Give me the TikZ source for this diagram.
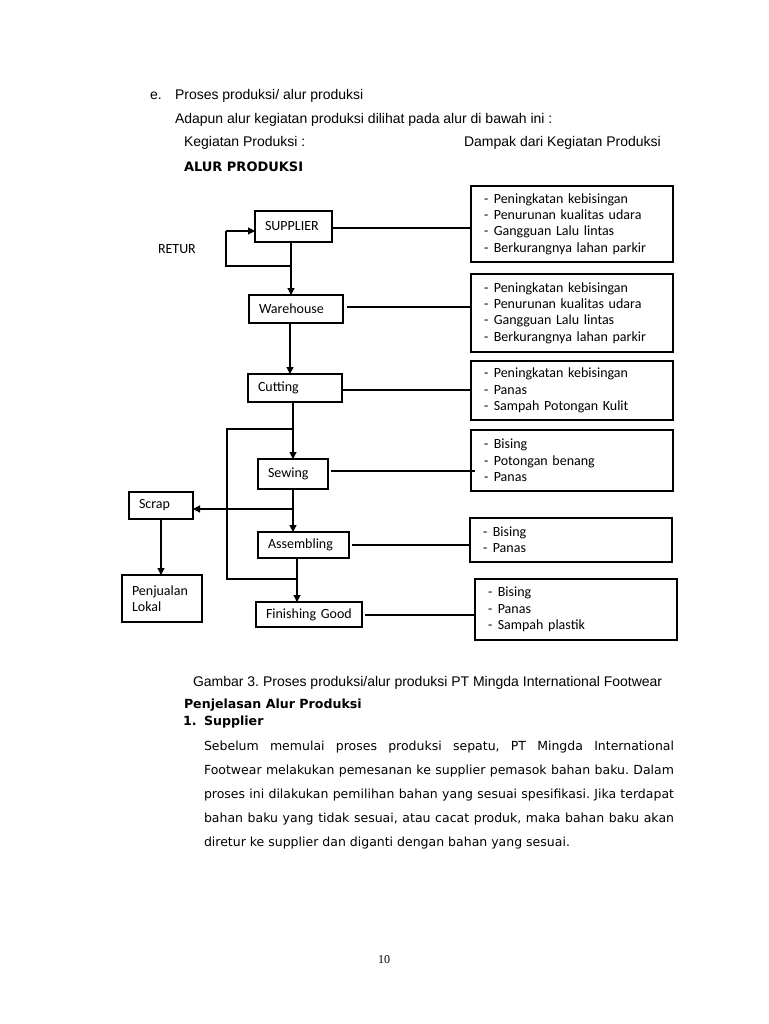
\documentclass[tikz,border=0pt]{standalone}
\usepackage{fontspec}
\setmainfont{Liberation Sans}
\newfontfamily\calibri{Carlito}
\newfontfamily\verd{DejaVu Sans}
\newfontfamily\tnr{Liberation Serif}
\usetikzlibrary{arrows.meta}
\newcommand\dd{-\hspace{5.5pt}}
\frenchspacing
\begin{document}
\begin{tikzpicture}[x=1pt,y=-1pt,
  every node/.style={inner sep=0pt, outer sep=0pt},
  txt/.style={anchor=base west, font=\fontsize{14}{16}\selectfont},
  body/.style={anchor=base west, font=\verd\fontsize{12.5}{24}\selectfont},
  bodyb/.style={anchor=base west, font=\verd\bfseries\fontsize{12.6}{24}\selectfont},
  cal/.style={anchor=base west, font=\calibri\fontsize{14}{16}\selectfont},
  flow/.style={draw, line width=1.2pt, anchor=north west, align=left, inner xsep=10pt, inner ysep=0pt, font=\calibri\fontsize{14}{16}\selectfont},
  dampak/.style={draw, line width=1.3pt, anchor=north west, align=left, text width=176pt, inner xsep=13pt, inner ysep=0pt, font=\calibri\fontsize{14}{16.4}\selectfont},
  conn/.style={line width=1.2pt},
  arr/.style={line width=1.2pt, -{Triangle[length=7pt,width=7pt]}},
]
\fill[white] (0,0) rectangle (768,1024);
\useasboundingbox (0,0) rectangle (768,1024);

% header texts
\node[txt] (e) at (150,99.5) {e.};
\node[txt] (t1) at (175,99.5) {Proses produksi/ alur produksi};
\node[txt] (t2) at (175,123.5) {Adapun alur kegiatan produksi dilihat pada alur di bawah ini :};
\node[txt] (t3) at (184,146.5) {Kegiatan Produksi :};
\node[txt] (t4) at (464,146.5) {Dampak dari Kegiatan Produksi};
\node[bodyb, font=\verd\bfseries\fontsize{13}{24}\selectfont] (t5) at (184,171.5) {ALUR PRODUKSI};

% flow boxes
\node[flow, minimum width=77pt, minimum height=31pt, text width=57pt] (sup) at (255,211) {SUPPLIER};
\node[flow, minimum width=94pt, minimum height=28pt, text width=74pt] (wh) at (249,295) {Warehouse};
\node[flow, minimum width=94pt, minimum height=28pt, text width=74pt] (cut) at (248,374) {Cutting};
\node[flow, minimum width=70pt, minimum height=30pt, text width=50pt] (sew) at (258,459) {Sewing};
\node[flow, minimum width=64pt, minimum height=27pt, text width=44pt] (scrap) at (129,492) {Scrap};
\node[flow, minimum width=91pt, minimum height=26pt, text width=71pt] (asm) at (258,532) {Assembling};
\node[flow, minimum width=106pt, minimum height=25pt, text width=86pt] (fin) at (256,602) {Finishing Good};
\node[flow, minimum width=80pt, minimum height=47pt, text width=60pt] (pen) at (122,575) {Penjualan\\Lokal};
\node[cal] (retur) at (158,253.5) {RETUR};

% dampak boxes
\node[dampak, minimum height=76pt] (d1) at (471,186) {\dd Peningkatan kebisingan\\\dd Penurunan kualitas udara\\\dd Gangguan Lalu lintas\\\dd Berkurangnya lahan parkir};
\node[dampak, minimum height=78pt] (d2) at (471,274) {\dd Peningkatan kebisingan\\\dd Penurunan kualitas udara\\\dd Gangguan Lalu lintas\\\dd Berkurangnya lahan parkir};
\node[dampak, minimum height=59pt] (d3) at (471,361) {\dd Peningkatan kebisingan\\\dd Panas\\\dd Sampah Potongan Kulit};
\node[dampak, minimum height=61pt] (d4) at (471,430) {\dd Bising\\\dd Potongan benang\\\dd Panas};
\node[dampak, minimum height=44pt] (d5) at (470,518) {\dd Bising\\\dd Panas};
\node[dampak, minimum height=61pt] (d6) at (475,579) {\dd Bising\\\dd Panas\\\dd Sampah plastik};

% flow coordinates
\coordinate (xA) at (291,0);
\coordinate (xB) at (290,0);
\coordinate (xC) at (293,0);
\coordinate (xD) at (297,0);
\coordinate (retA) at (291,266);
\coordinate (retB) at (226,266);
\coordinate (retC) at (226,231);
\coordinate (brA) at (293,429);
\coordinate (brB) at (227,429);
\coordinate (brC) at (227,579);
\coordinate (brD) at (297,579);
\coordinate (scA) at (293,509);

% flow arrows
\draw[arr] (sup.south -| xA) -- (wh.north -| xA);
\draw[conn] (retA) -- (retB) -- (retC);
\draw[arr] (retC) -- (retC -| sup.west);
\draw[arr] (wh.south -| xB) -- (cut.north -| xB);
\draw[arr] (cut.south -| xC) -- (sew.north -| xC);
\draw[conn] (brA) -- (brB) -- (brC) -- (brD);
\draw[arr] (sew.south -| xC) -- (asm.north -| xC);
\draw[arr] (scA) -- (scA -| scrap.east);
\draw[arr] (asm.south -| xD) -- (fin.north -| xD);
\draw[arr] (scrap.south) -- (scrap.south |- pen.north);

% dampak connectors
\draw[conn] ([yshift=-1.5pt]sup.east) -- ([yshift=-1.5pt]sup.east -| d1.west);
\draw[conn] ([xshift=4pt,yshift=2pt]wh.east) -- ([yshift=2pt]wh.east -| d2.west);
\draw[conn] ([yshift=-2pt]cut.east) -- ([yshift=-2pt]cut.east -| d3.west);
\draw[conn] ([xshift=3pt,yshift=3pt]sew.east) -- ([xshift=4pt,yshift=3pt]sew.east -| d4.west);
\draw[conn] ([xshift=3pt]asm.east) -- ([xshift=-1pt]asm.east -| d5.west);
\draw[conn] ([xshift=3pt,yshift=-0.5pt]fin.east) -- ([yshift=-0.5pt]fin.east -| d6.west);

% lower texts
\node[txt] (cap) at (193,686.5) {Gambar 3. Proses produksi/alur produksi PT Mingda International Footwear};
\node[bodyb] (pj) at (184,708.5) {Penjelasan Alur Produksi};
\node[bodyb] (n1) at (183,725.5) {1.};
\node[bodyb] (sp) at (204,725.5) {Supplier};
\node[body] (b1) at (204,750.5) {\makebox[470pt][s]{Sebelum memulai proses produksi sepatu, PT Mingda International}};
\node[body] (b2) at (204,774.5) {\makebox[470pt][s]{Footwear melakukan pemesanan ke supplier pemasok bahan baku. Dalam}};
\node[body] (b3) at (204,798.5) {\makebox[470pt][s]{proses ini dilakukan pemilihan bahan yang sesuai spesifikasi. Jika terdapat}};
\node[body] (b4) at (204,822.5) {\makebox[470pt][s]{bahan baku yang tidak sesuai, atau cacat produk, maka bahan baku akan}};
\node[body] (b5) at (204,846.5) {diretur ke supplier dan diganti dengan bahan yang sesuai.};
\node[font=\tnr\fontsize{12}{14}\selectfont] (pg) at (384,960) {10};
\end{tikzpicture}
\end{document}
